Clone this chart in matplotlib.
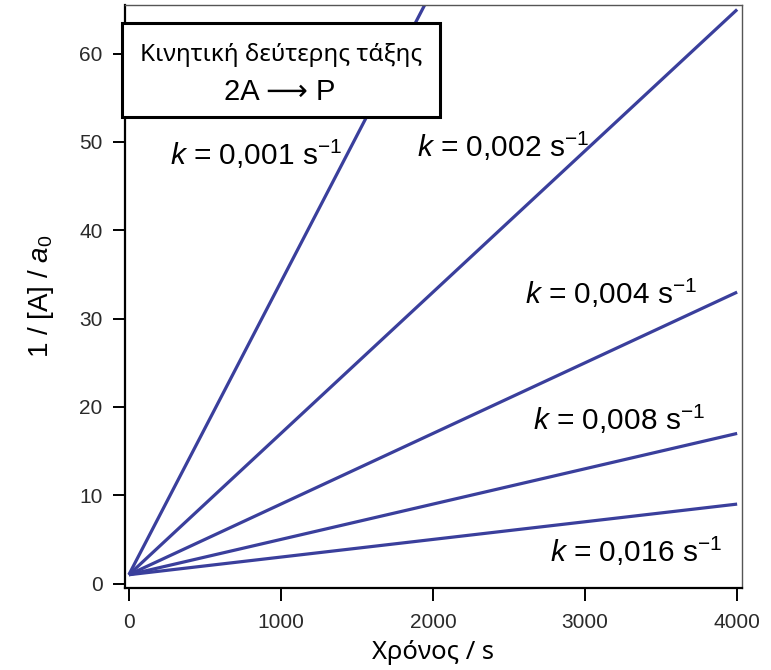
import matplotlib
matplotlib.use("Agg")
import matplotlib.pyplot as plt
from matplotlib.patches import Rectangle

plt.rcParams['font.family'] = ['Liberation Sans', 'DejaVu Sans']
plt.rcParams['mathtext.fontset'] = 'custom'
plt.rcParams['mathtext.rm'] = 'Liberation Sans'
plt.rcParams['mathtext.it'] = 'Liberation Sans:italic'

# data: each line runs from (0, 1) to (t_end, y_end)
k_labels = ['0,001', '0,002', '0,004', '0,008', '0,016']
t_start = [0, 0, 0, 0, 0]
y_start = [1, 1, 1, 1, 1]
t_end = [1960, 4000, 4000, 4000, 4000]
y_end = [66, 65, 33, 17, 9]

x_ticks = [0, 1000, 2000, 3000, 4000]
y_ticks = [0, 10, 20, 30, 40, 50, 60]

line_color = '#3a3f9c'

fig = plt.figure(figsize=(7.71, 6.70), dpi=100)
ax = fig.add_axes([0.162, 0.1224, 0.8, 0.870])

for i in range(len(k_labels)):
    ax.plot([t_start[i], t_end[i]], [y_start[i], y_end[i]],
            color=line_color, linewidth=2.3, solid_capstyle='butt')

ax.set_xlim(-26, 4030)
ax.set_ylim(-0.5, 65.5)
ax.set_xticks(x_ticks)
ax.set_yticks(y_ticks)
ax.tick_params(axis='both', direction='out', length=9, width=1.4, labelsize=15,
               labelcolor='#2a2a2a')
ax.tick_params(axis='x', pad=9)
ax.tick_params(axis='y', pad=7)
for side in ['left', 'bottom']:
    ax.spines[side].set_linewidth(1.6)
for side in ['top', 'right']:
    ax.spines[side].set_linewidth(1.0)
    ax.spines[side].set_color('#555555')

ax.set_xlabel('Χρόνος / s', family=['Noto Sans', 'DejaVu Sans'], fontsize=18.5, labelpad=6)
ax.set_ylabel(r'1 / [A] / $a_0$', fontsize=20, labelpad=17)

# k labels next to each line
label_pos = [(270, 48.6, 'left'), (1895, 49.5, 'left'), (3737, 32.8, 'right'),
             (3789, 18.6, 'right'), (3901, 3.6, 'right')]
for lab, (tx, ty, ha) in zip(k_labels, label_pos):
    ax.text(tx, ty, r'$k$ = ' + lab + r' s$^{-1}$', fontsize=21.5, ha=ha, va='center')

# title box
box = Rectangle((122 / 771, 1 - 117 / 670), 318 / 771, 94 / 670, transform=fig.transFigure,
                facecolor='white', edgecolor='black', linewidth=2.2, zorder=5, clip_on=False)
fig.patches.append(box)
fig.text(281 / 771, 1 - 55 / 670, 'Κινητική δεύτερης τάξης', family=['Noto Sans', 'DejaVu Sans'],
         fontsize=17.5, ha='center', va='center', zorder=6)
fig.text(280 / 771, 1 - 92 / 670, '2A ⟶ P', family=['Liberation Sans', 'DejaVu Sans'],
         fontsize=21, ha='center', va='center', zorder=6)

fig.savefig('out.png', dpi=100)
